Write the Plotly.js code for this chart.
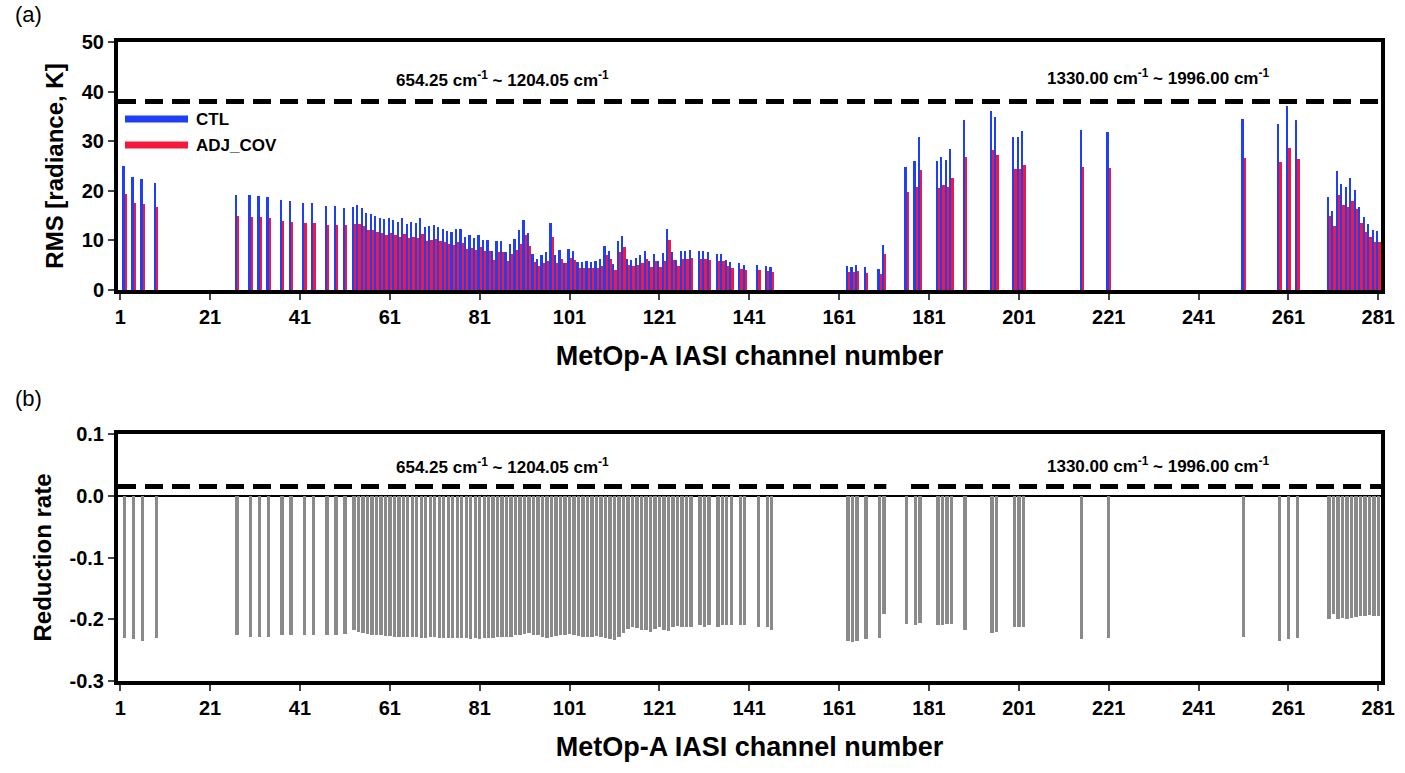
<!DOCTYPE html>
<html>
<head>
<meta charset="utf-8">
<script src="https://cdn.plot.ly/plotly-3.0.1.min.js"></script>
<style>
  body { margin: 0; background: #fff; }
  #chart { width: 1405px; height: 773px; }
</style>
</head>
<body>
<div id="chart"></div>
<script>
// channel numbers that carry data
const channels = [2, 4, 6, 9, 27, 30, 32, 34, 37, 39, 42, 44, 47, 49, 51,
  53, 54, 55, 56, 57, 58, 59, 60, 61, 62, 63, 64, 65, 66, 67, 68, 69, 70, 71, 72,
  73, 74, 75, 76, 77, 78, 79, 80, 81, 82, 83, 84, 85, 86, 87, 88, 89, 90, 91, 92,
  93, 94, 95, 96, 97, 98, 99, 100, 101, 102, 103, 104, 105, 106, 107, 108, 109, 110, 111, 112,
  113, 114, 115, 116, 117, 118, 119, 120, 121, 122, 123, 124, 125, 126, 127, 128,
  130, 131, 132, 134, 135, 136, 137, 139, 140, 143, 145, 146,
  163, 164, 165, 167, 170, 171, 176, 178, 179, 183, 184, 185, 186, 189, 195, 196,
  200, 201, 202, 215, 221, 251, 259, 261, 263,
  270, 271, 272, 273, 274, 275, 276, 277, 278, 279, 280, 281];

// RMS, CTL experiment
const ctlRms = [25, 22.8, 22.4, 21.6, 19.1, 19.1, 18.9, 18.8, 18.2, 17.9, 17.6, 17.6, 17, 17, 16.6,
  16.8, 17.1, 16.5, 15.6, 15.4, 15.0, 14.6, 14.3, 14.6, 14.1, 13.8, 14.6, 13.4, 13.7, 13.5, 14.6, 12.7, 13.0, 13.2, 12.7,
  12.3, 11.9, 11.6, 12.4, 12.2, 10.6, 11.0, 10.4, 11.0, 10.1, 10.1, 7.9, 9.9, 9.8, 7.6, 9.3, 10.3, 12.0, 14.2, 11.5,
  7.2, 6.2, 7.0, 7.6, 13.5, 7.0, 8.1, 5.5, 8.3, 7.8, 5.7, 5.7, 5.8, 5.6, 5.8, 6.2, 8.9, 7.9, 5.2, 9.8,
  10.9, 6.3, 6.1, 6.5, 7.0, 7.8, 5.8, 7.3, 5.9, 7.5, 12.4, 7.6, 6.1, 7.9, 7.9, 8.0,
  7.9, 7.9, 7.7, 7.3, 7.3, 6.1, 5.6, 5.4, 5.0, 5.0, 4.9, 4.7,
  4.8, 4.6, 5.0, 4.6, 4.3, 9.1, 24.8, 26, 30.8, 26, 26.8, 26.2, 28.4, 34.3, 36, 34.8,
  30.8, 30.8, 32, 32.2, 31.9, 34.5, 33.5, 37.1, 34.2,
  18.8, 16, 24, 21.4, 20.8, 22.6, 20.2, 16.7, 14.7, 13.3, 12.1, 11.8];

// RMS, ADJ_COV experiment
const adjRms = [19.4, 17.5, 17.3, 16.8, 15, 14.8, 14.8, 14.6, 14, 13.8, 13.6, 13.5, 13.2, 13.2, 13.1,
  13.3, 13.3, 12.9, 12.1, 12.0, 11.7, 11.4, 11.1, 11.4, 11.0, 10.7, 11.3, 10.4, 10.6, 10.5, 11.3, 9.9, 10.1, 10.3, 9.9,
  9.6, 9.3, 9.0, 9.6, 9.5, 8.2, 8.5, 8.1, 8.6, 7.8, 7.8, 6.1, 7.7, 7.6, 5.9, 7.2, 8.0, 9.3, 11.0, 8.9,
  5.6, 4.8, 5.4, 5.9, 10.6, 5.4, 6.3, 5.5, 6.4, 6.1, 4.5, 4.5, 4.5, 4.4, 4.5, 4.8, 7.0, 6.2, 4.1, 7.7,
  8.6, 5.0, 4.8, 5.1, 5.5, 6.2, 4.6, 5.8, 4.7, 5.9, 10.0, 6.0, 4.8, 6.3, 6.3, 6.4,
  6.3, 6.3, 6.1, 5.8, 5.8, 4.9, 4.4, 4.3, 4.0, 4.0, 3.9, 3.7,
  3.7, 3.6, 3.8, 3.5, 3.3, 7.3, 19.8, 20.8, 24.2, 20.6, 21.1, 20.8, 22.6, 26.8, 28.2, 27.2,
  24.4, 24.4, 25.2, 24.8, 24.6, 26.6, 25.8, 28.6, 26.4,
  15, 13, 19.1, 17.1, 16.7, 17.9, 16.3, 13.5, 11.7, 10.7, 9.7, 9.6];

// reduction rate of RMS
const reduction = [-0.23, -0.232, -0.235, -0.23, -0.226, -0.228, -0.228, -0.228, -0.226, -0.226, -0.226, -0.225, -0.225, -0.225, -0.224,
  -0.218, -0.22, -0.222, -0.224, -0.225, -0.226, -0.226, -0.227, -0.227, -0.228, -0.228, -0.228, -0.229, -0.229, -0.229, -0.23, -0.23, -0.229, -0.229, -0.23,
  -0.23, -0.23, -0.23, -0.231, -0.231, -0.231, -0.232, -0.231, -0.232, -0.231, -0.231, -0.23, -0.229, -0.229, -0.228, -0.228, -0.226, -0.225, -0.224, -0.223,
  -0.225, -0.226, -0.228, -0.23, -0.228, -0.227, -0.226, -0.225, -0.224, -0.226, -0.227, -0.228, -0.229, -0.228, -0.227, -0.228, -0.23, -0.232, -0.234, -0.228,
  -0.222, -0.215, -0.212, -0.214, -0.218, -0.218, -0.22, -0.216, -0.213, -0.218, -0.219, -0.212, -0.211, -0.213, -0.212, -0.212,
  -0.21, -0.212, -0.21, -0.213, -0.21, -0.209, -0.209, -0.21, -0.209, -0.213, -0.213, -0.218,
  -0.235, -0.237, -0.235, -0.232, -0.23, -0.192, -0.208, -0.21, -0.206, -0.21, -0.21, -0.208, -0.207, -0.218, -0.222, -0.22,
  -0.213, -0.213, -0.213, -0.232, -0.23, -0.228, -0.235, -0.232, -0.23,
  -0.2, -0.192, -0.2, -0.198, -0.2, -0.198, -0.197, -0.195, -0.195, -0.193, -0.195, -0.195];

const tickVals = [1, 21, 41, 61, 81, 101, 121, 141, 161, 181, 201, 221, 241, 261, 281];
const rateTicks = [-0.3, -0.2, -0.1, 0.0, 0.1];
const rateLabels = ['-0.3', '-0.2', '-0.1', '0.0', '0.1'];
const bandLeft = '654.25 cm<sup>-1</sup> ~ 1204.05 cm<sup>-1</sup>';
const bandRight = '1330.00 cm<sup>-1</sup> ~ 1996.00 cm<sup>-1</sup>';

const FONT = 'Liberation Sans, Arial, sans-serif';
const CTL_COLOR = '#1f3ff5';
const ADJ_COLOR = '#f5183c';

function xAxis(anchor) {
  return {
    anchor: anchor, range: [0.5, 281.6], tickvals: tickVals, ticks: 'outside', ticklen: 6, tickwidth: 2,
    showgrid: false, zeroline: false, showline: true, mirror: true, linewidth: 4, linecolor: '#000',
    tickfont: { size: 20, family: FONT, color: '#000', weight: 'bold' },
    title: { text: '<b>MetOp-A IASI channel number</b>', font: { size: 27, family: FONT, color: '#000' }, standoff: 20 }
  };
}

const traces = [
  { type: 'bar', name: 'CTL', x: channels, y: ctlRms, marker: { color: CTL_COLOR }, xaxis: 'x', yaxis: 'y', showlegend: false },
  { type: 'bar', name: 'ADJ_COV', x: channels, y: adjRms, marker: { color: ADJ_COLOR }, xaxis: 'x', yaxis: 'y', showlegend: false },
  { type: 'bar', x: channels, y: reduction, width: 0.75, marker: { color: '#8a8a8a' }, xaxis: 'x2', yaxis: 'y2', showlegend: false, offsetgroup: 'r' }
];

const layout = {
  width: 1405, height: 773,
  margin: { l: 118, r: 24, t: 0, b: 0 },
  paper_bgcolor: '#fff', plot_bgcolor: '#fff',
  barmode: 'group', bargap: 0.0, bargroupgap: 0,
  font: { family: FONT, color: '#000' },
  showlegend: false,
  xaxis: xAxis('y'),
  xaxis2: xAxis('y2'),
  yaxis: {
    domain: [1 - 290 / 773, 1 - 42 / 773], range: [0, 50], dtick: 10, ticks: 'outside', ticklen: 6, tickwidth: 2,
    showgrid: false, zeroline: false, showline: true, mirror: true, linewidth: 4, linecolor: '#000',
    tickfont: { size: 20, family: FONT, weight: 'bold' },
    title: { text: '<b>RMS [radiance, K]</b>', font: { size: 24, family: FONT }, standoff: 12 }
  },
  yaxis2: {
    domain: [1 - 681 / 773, 1 - 434 / 773], range: [-0.3, 0.1], tickvals: rateTicks, ticktext: rateLabels, ticks: 'outside', ticklen: 6, tickwidth: 2,
    showgrid: false, zeroline: true, zerolinecolor: '#000', zerolinewidth: 1.5, showline: true, mirror: true, linewidth: 4, linecolor: '#000',
    tickfont: { size: 20, family: FONT, weight: 'bold' },
    title: { text: '<b>Reduction rate</b>', font: { size: 24, family: FONT }, standoff: 12 }
  },
  shapes: [
    { type: 'line', xref: 'x', yref: 'y', x0: 0.5, x1: 281.6, y0: 38, y1: 38, line: { color: '#000', width: 5, dash: '18px,9px' } },
    { type: 'line', xref: 'x2', yref: 'y2', x0: 0.5, x1: 171.5, y0: 0.015, y1: 0.015, line: { color: '#000', width: 5, dash: '18px,9px' } },
    { type: 'line', xref: 'x2', yref: 'y2', x0: 177, x1: 281.6, y0: 0.015, y1: 0.015, line: { color: '#000', width: 5, dash: '18px,9px' } },
    // legend swatches
    { type: 'line', xref: 'paper', yref: 'paper', x0: 7 / 1263, x1: 70 / 1263, y0: 1 - 119 / 773, y1: 1 - 119 / 773, line: { color: CTL_COLOR, width: 7 } },
    { type: 'line', xref: 'paper', yref: 'paper', x0: 7 / 1263, x1: 70 / 1263, y0: 1 - 145 / 773, y1: 1 - 145 / 773, line: { color: ADJ_COLOR, width: 7 } }
  ],
  annotations: [
    { xref: 'paper', yref: 'paper', x: -0.083, y: 1.0, xanchor: 'left', yanchor: 'top', text: '(a)', showarrow: false, font: { size: 22 } },
    { xref: 'paper', yref: 'paper', x: -0.083, y: 1 - 384 / 773, xanchor: 'left', yanchor: 'top', text: '(b)', showarrow: false, font: { size: 22 } },
    { xref: 'paper', yref: 'paper', x: 76 / 1263, y: 1 - 119 / 773, xanchor: 'left', yanchor: 'middle', text: '<b>CTL</b>', showarrow: false, font: { size: 17 } },
    { xref: 'paper', yref: 'paper', x: 76 / 1263, y: 1 - 145 / 773, xanchor: 'left', yanchor: 'middle', text: '<b>ADJ_COV</b>', showarrow: false, font: { size: 17 } },
    { xref: 'x', yref: 'y', x: 86, y: 42.5, text: '<b>' + bandLeft + '</b>', showarrow: false, font: { size: 17 } },
    { xref: 'x', yref: 'y', x: 232, y: 43, text: '<b>' + bandRight + '</b>', showarrow: false, font: { size: 17 } },
    { xref: 'x2', yref: 'y2', x: 86, y: 0.048, text: '<b>' + bandLeft + '</b>', showarrow: false, font: { size: 17 } },
    { xref: 'x2', yref: 'y2', x: 232, y: 0.05, text: '<b>' + bandRight + '</b>', showarrow: false, font: { size: 17 } }
  ]
};

Plotly.newPlot('chart', traces, layout, { displayModeBar: false, staticPlot: true });
</script>
</body>
</html>
